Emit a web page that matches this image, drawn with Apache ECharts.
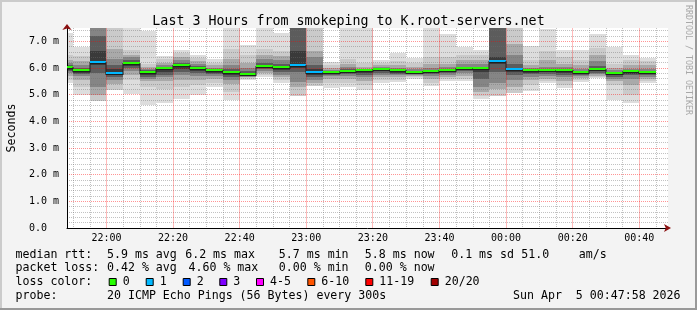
<!DOCTYPE html>
<html><head><meta charset="utf-8">
<script src="https://cdn.jsdelivr.net/npm/echarts@6/dist/echarts.min.js"></script>
<style>html,body{margin:0;padding:0;background:#f3f3f3}#c{width:697px;height:310px}</style>
</head><body><div id="c"></div>
<script>
// ---------------- data ----------------
const barEndTimes = ['21:50','21:55','22:00','22:05','22:10','22:15','22:20','22:25','22:30','22:35','22:40','22:45',
  '22:50','22:55','23:00','23:05','23:10','23:15','23:20','23:25','23:30','23:35','23:40','23:45',
  '23:50','23:55','00:00','00:05','00:10','00:15','00:20','00:25','00:30','00:35','00:40','00:45'];
const medians = [6.00,5.88,6.20,5.77,6.15,5.81,5.96,6.06,5.97,5.89,5.81,5.75,
  6.04,6.00,6.08,5.82,5.81,5.85,5.88,5.92,5.88,5.82,5.85,5.89,
  5.97,5.98,6.23,5.92,5.88,5.88,5.88,5.81,5.93,5.77,5.84,5.80];
const lostPings = [0,0,1,1,0,0,0,0,0,0,0,0, 0,0,1,1,0,0,0,0,0,0,0,0, 0,0,1,1,0,0,0,0,0,0,0,0];
// smoke bands, outermost to innermost (ms); null = band absent (lost ping)
const smokeLo = [
  [5.42,5.55,5.70,5.80,5.87,5.93],[4.99,5.30,5.55,5.70,5.78,5.83],[null,4.77,5.00,5.30,5.83,6.12],[null,5.16,5.40,5.55,5.68,5.73],
  [5.02,5.55,5.75,5.90,6.00,6.07],[4.62,5.30,5.50,5.60,5.68,5.74],[4.69,5.20,5.50,5.65,5.75,5.85],[4.83,5.30,5.55,5.75,5.85,5.95],
  [5.00,5.35,5.55,5.70,5.80,5.88],[5.28,5.45,5.60,5.70,5.78,5.83],[4.79,5.10,5.40,5.55,5.65,5.74],[5.55,5.60,5.65,5.68,5.70,5.72],
  [5.66,5.75,5.82,5.88,5.95,6.00],[5.45,5.55,5.65,5.75,5.85,5.93],[null,4.94,5.28,5.47,5.85,6.00],[null,5.32,5.45,5.55,5.65,5.72],
  [5.25,5.45,5.60,5.70,5.75,5.78],[5.30,5.45,5.60,5.70,5.76,5.80],[5.19,5.35,5.50,5.65,5.75,5.82],[5.43,5.55,5.65,5.75,5.82,5.87],
  [5.47,5.55,5.65,5.72,5.78,5.83],[5.60,5.65,5.70,5.74,5.77,5.79],[5.32,5.45,5.60,5.70,5.77,5.81],[5.53,5.60,5.68,5.75,5.82,5.86],
  [5.52,5.60,5.70,5.80,5.88,5.93],[4.83,4.95,5.10,5.30,5.60,5.85],[null,4.94,5.20,5.43,5.85,6.15],[null,5.07,5.30,5.55,5.75,5.85],
  [5.14,5.35,5.55,5.68,5.77,5.83],[5.43,5.50,5.60,5.70,5.78,5.84],[5.24,5.35,5.50,5.65,5.75,5.82],[5.47,5.55,5.63,5.70,5.75,5.78],
  [5.62,5.66,5.70,5.76,5.83,5.88],[4.80,5.35,5.50,5.60,5.67,5.72],[4.70,5.00,5.35,5.60,5.72,5.78],[5.42,5.50,5.60,5.67,5.73,5.77]
];
const smokeHi = [
  [7.31,6.50,6.30,6.20,6.10,6.05],[6.78,6.45,6.25,6.10,6.00,5.95],[null,9.00,9.00,9.00,7.20,6.62],[null,9.00,6.70,6.35,6.10,5.95],
  [7.80,6.66,6.50,6.40,6.30,6.22],[7.38,6.15,6.05,5.98,5.92,5.88],[6.45,6.35,6.20,6.10,6.04,6.00],[6.67,6.55,6.40,6.30,6.20,6.12],
  [6.50,6.38,6.25,6.15,6.07,6.02],[6.33,6.20,6.10,6.00,5.96,5.93],[7.80,6.70,6.35,6.10,5.95,5.87],[6.88,6.50,6.20,6.00,5.88,5.80],
  [7.80,6.70,6.50,6.35,6.20,6.10],[7.30,6.65,6.45,6.30,6.15,6.07],[null,9.00,9.00,9.00,9.00,6.65],[null,9.00,6.65,6.40,6.10,5.95],
  [6.22,6.10,6.00,5.93,5.88,5.85],[7.80,6.35,6.15,6.02,5.95,5.90],[7.80,6.18,6.05,5.98,5.94,5.92],[6.29,6.20,6.10,6.03,5.98,5.96],
  [6.57,6.25,6.10,6.00,5.95,5.92],[6.39,6.20,6.05,5.97,5.90,5.86],[7.80,6.40,6.15,6.00,5.93,5.89],[7.27,6.40,6.15,6.02,5.96,5.92],
  [6.80,6.50,6.30,6.15,6.05,6.01],[6.69,6.50,6.30,6.15,6.05,6.02],[null,9.00,9.00,9.00,9.00,6.40],[null,9.00,6.90,6.50,6.15,6.00],
  [6.83,6.30,6.10,6.00,5.94,5.91],[7.45,6.64,6.30,6.05,5.95,5.91],[6.68,6.40,6.15,6.02,5.95,5.91],[6.66,6.30,6.10,5.98,5.90,5.85],
  [7.26,6.75,6.50,6.25,6.08,6.00],[6.78,6.15,6.00,5.92,5.86,5.82],[6.50,6.30,6.10,5.98,5.92,5.88],[6.39,6.25,6.10,5.97,5.90,5.86]
];
const timeTicks = ['22:00','22:20','22:40','23:00','23:20','23:40','00:00','00:20','00:40'];
const viewStart = '21:48:09', viewEnd = '00:48:37';
const yMax = 7.5;
const stepMinutes = 5;
const lossLabels = ['0','1','2','3','4-5','6-10','11-19','20/20'];
const titleText = 'Last 3 Hours from smokeping to K.root-servers.net';
const rttStats = ['5.9 ms avg','6.2 ms max','5.7 ms min','5.8 ms now','0.1 ms sd','51.0','am/s'];
const lossStats = ['0.42 % avg','4.60 % max','0.00 % min','0.00 % now'];
const probeText = '20 ICMP Echo Pings (56 Bytes) every 300s';
const dateText = 'Sun Apr  5 00:47:58 2026';

// ---------------- styles ----------------
const FONT = "'DejaVu Sans Mono', monospace";
const smokeColors = ['#dddddd','#cacaca','#a9a9a9','#858585','#5c5c5c','#3a3a3a'];
const lossColors = ['#26ff00','#00b8ff','#0059ff','#7e00ff','#ff00ff','#ff5500','#ff0000','#a10000'];
const MAJOR = 'rgba(255,0,0,0.42)', MAJOR_V = 'rgba(255,0,0,0.27)', MINOR = 'rgba(110,110,110,0.42)';

function toMin(s) {
  const p = s.split(':').map(Number);
  let m = p[0] * 60 + p[1] + (p[2] || 0) / 60;
  if (p[0] < 12) m += 1440;
  return m;
}
function fmtTime(v) {
  const h = Math.floor(v / 60) % 24, m = Math.round(v % 60);
  return String(h).padStart(2, '0') + ':' + String(m).padStart(2, '0');
}
const xMin = toMin(viewStart), xMax = toMin(viewEnd);
const majorVals = timeTicks.map(toMin);
const minorVals = [];
for (let t = Math.ceil(xMin / stepMinutes) * stepMinutes; t < xMax; t += stepMinutes) {
  if (majorVals.indexOf(t) < 0) minorVals.push(t);
}
function lossIndex(n) { return n <= 0 ? 0 : n <= 3 ? n : n <= 5 ? 4 : n <= 10 ? 5 : n <= 19 ? 6 : 7; }

const barData = barEndTimes.map((s, k) => [toMin(s) - stepMinutes, toMin(s), k, medians[k]]);

function renderSmoke(params, api) {
  const k = api.value(2), t0 = api.value(0), t1 = api.value(1);
  const cs = params.coordSys;
  const children = [];
  for (let j = 0; j < smokeColors.length; j++) {
    const lo = smokeLo[k][j], hi = smokeHi[k][j];
    if (lo == null || hi == null) continue;
    const a = api.coord([t0, hi]), b = api.coord([t1, lo]);
    let x0 = Math.round(Math.max(a[0], cs.x)), x1 = Math.round(Math.min(b[0], cs.x + cs.width));
    let y0 = Math.round(Math.max(a[1], cs.y)), y1 = Math.round(Math.min(b[1], cs.y + cs.height));
    if (x1 <= x0 || y1 <= y0) continue;
    children.push({ type: 'rect', shape: { x: x0, y: y0, width: x1 - x0, height: y1 - y0 },
      style: { fill: smokeColors[j] } });
  }
  return { type: 'group', children };
}
function renderVGrid(params, api) {
  const v = api.value(0);
  const a = api.coord([v, 0]), b = api.coord([v, yMax]);
  const x = Math.floor(a[0]);
  return { type: 'rect', shape: { x: x, y: Math.round(b[1]), width: 1, height: Math.round(a[1]) - Math.round(b[1]) },
    style: { fill: MAJOR_V } };
}
function renderMedian(params, api) {
  const k = api.value(2), t0 = api.value(0), t1 = api.value(1), med = api.value(3);
  const cs = params.coordSys;
  const a = api.coord([t0, med]), b = api.coord([t1, med]);
  const x0 = Math.round(Math.max(a[0], cs.x)), x1 = Math.round(b[0]);
  const y = Math.round(a[1]);
  const children = [];
  if (k > 0) {
    const p = api.coord([t0, medians[k - 1]]);
    const yp = Math.round(p[1]);
    children.push({ type: 'rect', shape: { x: x0 - 0.5, y: Math.min(yp, y) - 1, width: 1, height: Math.abs(yp - y) + 2 },
      style: { fill: '#202020' } });
  }
  children.push({ type: 'rect', shape: { x: x0, y: y, width: x1 - x0, height: 1 }, style: { fill: '#202020' } });
  children.push({ type: 'rect', shape: { x: x0, y: y - 2, width: x1 - x0, height: 2 },
    style: { fill: lossColors[lossIndex(lostPings[k])] } });
  return { type: 'group', children };
}

// ---------------- graphic (legend & frame) ----------------
const g = [];
function txt(x, y, s, extra) {
  g.push(Object.assign({ type: 'text', x: x, y: y,
    style: { text: s, font: '11.6px ' + FONT, fill: '#000', align: 'left', verticalAlign: 'middle' } }, extra || {}));
}
const rttX = [107, 185.2, 278.8, 364.8, 451.2, 521.2, 578.8];
txt(15.5, 254.5, 'median rtt:');
rttStats.forEach((s, i) => txt(rttX[i], 254.5, s));
const lossX = [107, 188.5, 278.8, 364.8];
txt(15.5, 268.2, 'packet loss:');
lossStats.forEach((s, i) => txt(lossX[i], 268.2, s));
txt(15.5, 281.8, 'loss color:');
const swX = [108.7, 145.7, 182.7, 219.3, 256, 307.3, 365.3, 430.7];
lossLabels.forEach((s, i) => {
  g.push({ type: 'rect', shape: { x: swX[i] + 0.5, y: 278.5, width: 7, height: 7 },
    style: { fill: lossColors[i], stroke: '#000', lineWidth: 1 } });
  txt(swX[i] + 14, 281.8, s);
});
txt(15.5, 295.5, 'probe:');
txt(107, 295.5, probeText);
txt(513, 295.5, dateText);
g.push({ type: 'text', x: 688, y: 60, rotation: -Math.PI / 2,
  style: { text: 'RRDTOOL / TOBI OETIKER', font: '8.3px ' + FONT, fill: '#a8a8a8', align: 'center', verticalAlign: 'middle' } });
g.push({ type: 'rect', shape: { x: 0, y: 0, width: 697, height: 2 }, style: { fill: '#cbcbcb' } });
g.push({ type: 'rect', shape: { x: 0, y: 0, width: 2, height: 310 }, style: { fill: '#cbcbcb' } });
g.push({ type: 'rect', shape: { x: 0, y: 308, width: 697, height: 2 }, style: { fill: '#999999' } });
g.push({ type: 'rect', shape: { x: 695, y: 0, width: 2, height: 310 }, style: { fill: '#999999' } });

const chart = echarts.init(document.getElementById('c'), null, { renderer: 'canvas' });
chart.setOption({
  animation: false,
  backgroundColor: '#f3f3f3',
  title: { text: titleText, left: 'center', top: 10,
    textStyle: { fontFamily: FONT, fontSize: 13.3, fontWeight: 'normal', color: '#000' } },
  grid: { left: 67, top: 28, width: 601, height: 200, show: true, backgroundColor: '#ffffff', borderWidth: 0,
    containLabel: false, outerBoundsMode: 'none' },
  xAxis: [
    { type: 'value', min: xMin, max: xMax, position: 'bottom', z: 2,
      axisLine: { show: true, onZero: false, lineStyle: { color: '#000', width: 1 } },
      axisTick: { show: false, customValues: majorVals },
      axisLabel: { customValues: majorVals, formatter: fmtTime, margin: 5,
        fontFamily: FONT, fontSize: 10, color: '#000' },
      splitLine: { show: false } },
    { type: 'value', min: xMin, max: xMax, position: 'top', z: 1,
      axisLine: { show: false }, axisLabel: { show: false },
      axisTick: { show: false, customValues: minorVals },
      splitLine: { show: true, showMinLine: true, showMaxLine: true, lineStyle: { color: MINOR, type: [1, 1], width: 1 } } },
    { type: 'value', min: xMin, max: xMax, position: 'bottom', z: 3,
      axisLine: { show: true, onZero: false, symbol: ['none', 'arrow'], symbolSize: [6, 7], symbolOffset: [0, 3],
        lineStyle: { color: '#8b1010', width: 0 } },
      axisTick: { show: false }, axisLabel: { show: false }, splitLine: { show: false } }
  ],
  yAxis: [
    { type: 'value', min: 0, max: yMax, interval: 1, z: 2,
      name: 'Seconds', nameLocation: 'middle', nameGap: 49,
      nameTextStyle: { fontFamily: FONT, fontSize: 11.6, color: '#000' },
      axisLine: { show: true, onZero: false, lineStyle: { color: '#000', width: 1 } },
      axisTick: { show: false },
      axisLabel: { showMaxLabel: false, margin: 8, fontFamily: FONT, fontSize: 10, color: '#000',
        formatter: v => v === 0 ? '0.0  ' : v.toFixed(1) + ' m' },
      splitLine: { show: true, showMinLine: false, showMaxLine: false, lineStyle: { color: MAJOR, type: [1, 1], width: 1 } },
      minorTick: { show: false, splitNumber: 5 },
      minorSplitLine: { show: true, lineStyle: { color: MINOR, type: [1, 1], width: 1 } } },
    { type: 'value', min: 0, max: yMax, position: 'left', z: 3,
      axisLine: { show: true, onZero: false, symbol: ['none', 'arrow'], symbolSize: [7, 6], symbolOffset: [0, 4],
        lineStyle: { color: '#8b1010', width: 0 } },
      axisTick: { show: false }, axisLabel: { show: false }, splitLine: { show: false } }
  ],
  series: [
    { type: 'custom', name: 'smoke', z: 1, renderItem: renderSmoke, data: barData,
      encode: { x: [0, 1], y: 3 }, silent: true },
    { type: 'custom', name: 'majorGrid', z: 3, renderItem: renderVGrid, data: majorVals.map(v => [v, 0]),
      encode: { x: 0, y: 1 }, silent: true },
    { type: 'custom', name: 'median', z: 4, renderItem: renderMedian, data: barData,
      encode: { x: [0, 1], y: 3 }, silent: true }
  ],
  graphic: g
});
</script></body></html>
